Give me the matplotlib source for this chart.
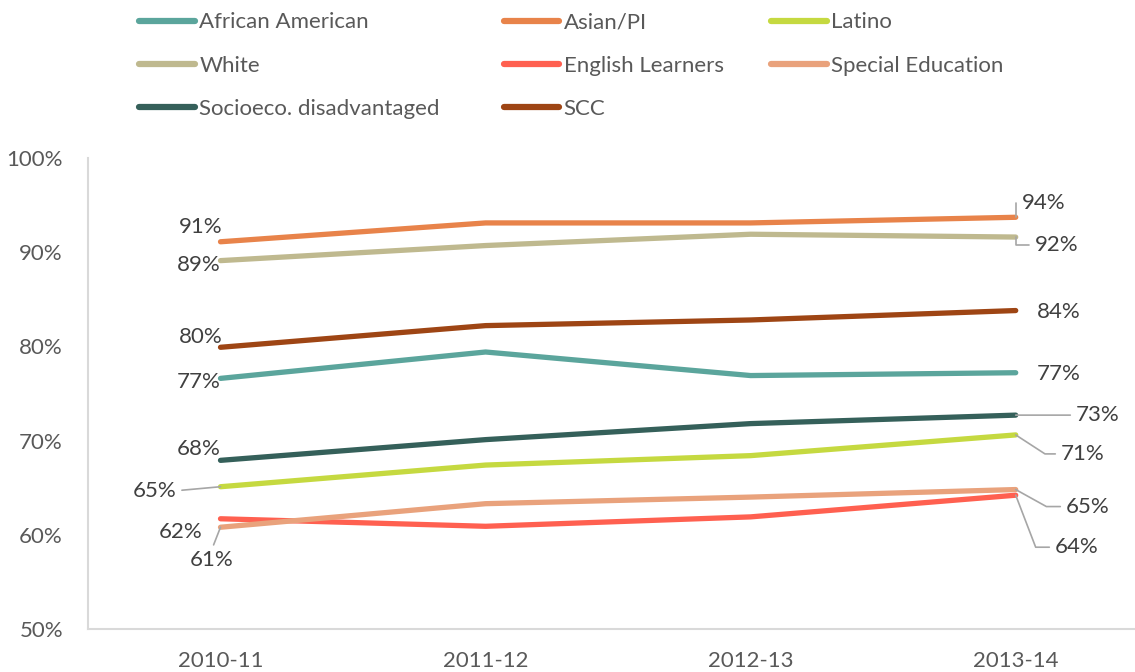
import matplotlib
matplotlib.use("Agg")
import matplotlib.pyplot as plt
from matplotlib.lines import Line2D

plt.rcParams['font.family'] = ['Lato', 'DejaVu Sans']

years = ['2010-11', '2011-12', '2012-13', '2013-14']

groups = ['African American', 'Asian/PI', 'Latino', 'White', 'English Learners',
          'Special Education', 'Socioeco. disadvantaged', 'SCC']
african_american = [76.6, 79.4, 76.9, 77.2]
asian_pi = [91.1, 93.1, 93.1, 93.7]
latino = [65.1, 67.4, 68.4, 70.6]
white = [89.1, 90.7, 91.9, 91.6]
english_learners = [61.7, 60.9, 61.9, 64.2]
special_ed = [60.8, 63.3, 64.0, 64.8]
socioeco = [67.9, 70.1, 71.8, 72.7]
scc = [79.9, 82.2, 82.8, 83.8]
series = [african_american, asian_pi, latino, white, english_learners,
          special_ed, socioeco, scc]
colors = ['#5BA59C', '#E8834A', '#C5D940', '#BFB98F', '#FF6050',
          '#E9A27C', '#35605A', '#9E4514']

# label offsets in pixels (first point, last point) and leader style
first_off = [(-22, -4), (-20, 15), (-66, -4), (-22, -4), (-40, -13),
             (-9, -33), (-22, 11), (-20, 10)]
last_off = [(43, -1), (28, 14), (67, -19), (41, -8), (61, -52),
            (72, -17), (82, 0), (43, -1)]
first_lead = [None, None, ('arc3', (1, 0.5)), None, None,
              ('arc3', (0.5, 1)), None, None]
last_lead = [None, ('angle,angleA=0,angleB=90,rad=0', (0, 0.5)),
             ('angle,angleA=0,angleB=-33,rad=0', (0, 0.5)),
             ('angle,angleA=0,angleB=90,rad=0', (0, 0.5)),
             ('angle,angleA=0,angleB=-69,rad=0', (0, 0.5)),
             ('angle,angleA=0,angleB=-29,rad=0', (0, 0.5)),
             ('arc3', (0, 0.5)), None]

fig = plt.figure(figsize=(11.35, 6.72), dpi=100)
ax = fig.add_axes([0.0775, 0.064, 0.9225, 0.701])

x = list(range(len(years)))
for vals, col, name in zip(series, colors, groups):
    ax.plot(x, vals, color=col, lw=3.8, solid_capstyle='round', label=name)


def label(xi, yi, off, lead):
    kw = dict(xy=(xi, yi), xytext=off, textcoords='offset pixels',
              ha='center', va='center', fontsize=16, color='#404040')
    if lead is not None:
        kw['arrowprops'] = dict(arrowstyle='-', color='#A6A6A6', lw=1.2,
                                shrinkA=2, shrinkB=0, connectionstyle=lead[0],
                                relpos=lead[1])
    ax.annotate('%d%%' % round(yi), **kw)


for i, vals in enumerate(series):
    label(0, vals[0], first_off[i], first_lead[i])
    label(3, vals[-1], last_off[i], last_lead[i])

ax.set_xlim(-0.5, 3.45)
ax.set_ylim(50, 100)
ax.set_xticks(x)
ax.set_xticklabels(years)
ax.set_yticks(range(50, 101, 10))
ax.set_yticklabels(['%d%%' % v for v in range(50, 101, 10)])
ax.tick_params(axis='both', length=0, labelsize=16, labelcolor='#595959')
ax.tick_params(axis='y', pad=18)
ax.tick_params(axis='x', pad=16)
for s in ['top', 'right']:
    ax.spines[s].set_visible(False)
for s in ['left', 'bottom']:
    ax.spines[s].set_color('#D9D9D9')
    ax.spines[s].set_linewidth(1.5)

# legend in three columns at fixed positions
cols = [[0, 3, 6], [1, 4, 7], [2, 5]]
xpos = [0.110, 0.431, 0.667]
for idx, xp in zip(cols, xpos):
    hs = [Line2D([], [], color=colors[i], lw=4.5, solid_capstyle='round') for i in idx]
    fig.legend(hs, [groups[i] for i in idx], loc='upper left',
               bbox_to_anchor=(xp, 1.003), frameon=False, fontsize=16,
               labelcolor='#595959', handlelength=2.5, handletextpad=0.2,
               labelspacing=1.05, borderpad=0.15)

fig.savefig('out.png', dpi=100)
